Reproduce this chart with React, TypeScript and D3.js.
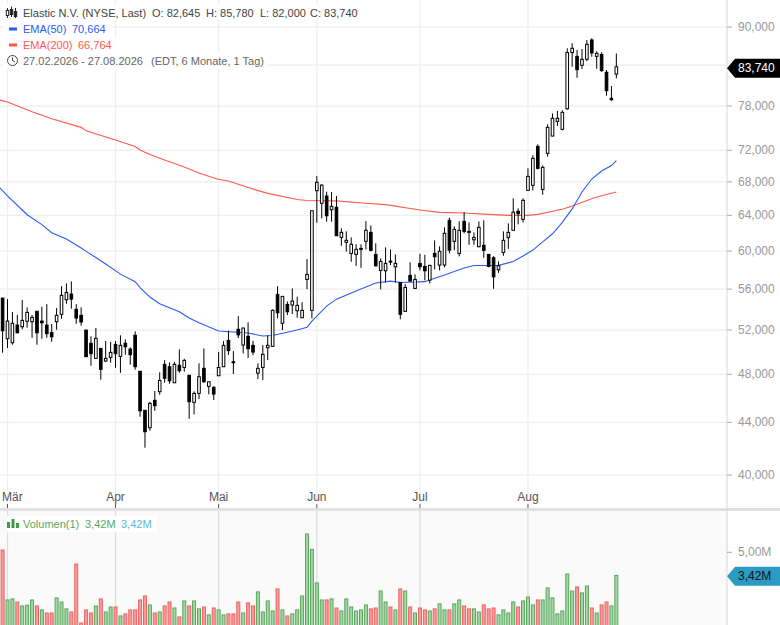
import React from 'react';
import * as d3 from 'd3';

// daily candles, 27.02.2026 - 27.08.2026
const opens = [55.1,51.19,50.82,52.47,52.31,52.83,52.79,53.79,52.85,52.47,51.78,52.79,53.5,54.93,55.5,53.99,53.4,52,50.77,49.4,50.3,49.16,49.49,50.67,49.58,50.77,50.24,51.51,48.26,44.97,43.57,45.79,46.51,48.87,48.66,47.27,48.79,48.6,47.91,45.62,46.37,48.52,46.96,46.88,47.87,48.66,51.04,49.1,52.07,50.61,51.42,50.58,48.1,48.6,50.36,50.49,55.47,52.64,54.47,54.41,53.85,53.17,56.99,53.89,66.92,65.41,66.28,64.65,64.94,61.5,60.95,59.74,59.63,60.29,61.06,62.06,59.63,57.93,57.89,58.91,58.31,56.68,53.79,57.41,56.07,58.67,58.35,56.92,59.74,58.49,58.49,63.43,61.06,59.74,63.3,62.17,61.23,60.47,60.62,59.63,59.27,57.99,59.85,61.5,62.29,64.47,63.54,66.96,67.57,72.52,67.08,71.6,73.88,75.87,74.78,77.62,85.93,85.34,83.97,84.89,87.91,85.34,85.65,82.92,79.1,82.645];
const highs = [55.1,55,53.72,53.43,54.9,54.18,53.43,53.85,54.24,54.5,52.57,54.11,56.3,56.58,56.79,54.5,54.18,52,51.42,52.19,50.3,50.98,50.89,50.98,51.51,51.13,50.4,51.88,48.26,44.97,45.67,46.57,48.17,49.25,49.05,49.1,50.21,49.37,47.91,46.54,48.96,50.3,47.35,46.98,49.97,50.98,51.93,50.06,53.33,52.22,52.73,51,48.96,50.61,51.51,53.99,56.3,55.3,54.77,56.07,55.23,54.7,59.13,64.54,68.71,67.69,66.8,66.76,66.28,62.51,62.17,61.5,60.73,60.73,63.33,62.85,60.84,59.2,60.4,60.18,59.63,56.68,56.51,58.78,57.51,59.7,59.59,58.52,61.17,60.51,62.62,63.73,62.74,63.3,64.35,63.19,62.06,63.3,63.43,59.63,59.44,58.88,62.17,63.08,66,64.82,66,69.68,71.35,72.78,70.06,75.46,76.98,77.3,77.4,86.6,87.39,86.33,86.49,87.91,88.18,86.13,85.97,83.26,80.88,85.78];
const lows = [49.91,50.33,50.64,51.69,52.07,52.22,51.28,50.64,51.19,51.28,50.91,52.03,53.07,54.54,54.05,52.59,52.41,49.55,48.75,49.4,47.53,49.1,49.02,48.57,48.13,49.73,48.84,48.4,44.45,42.03,43.34,44.93,46.25,47.27,47.19,47.27,48.13,48.22,44.28,44.64,45.89,47.27,46.29,45.81,47.85,48.66,49.71,48.02,51.25,49.85,49.43,49.7,47.58,47.5,49.25,50.45,53.11,52,53.43,53.53,53.17,53.17,56,53.11,63.15,63.65,63.27,63.27,61.68,60.57,59.92,58.84,58.41,58.2,60.18,59.96,58.35,55.97,56.68,58.49,56.68,53.02,53.79,56.82,56.03,57.93,56.89,56.58,58.03,57.93,58.25,59.74,60.1,59.42,61.95,60.68,60.68,60.4,59.27,58.25,56.03,57.68,59.48,60.24,62.29,62.97,63.19,66.96,66.96,69.56,66.43,71.17,73.84,75.23,74.65,77.48,83.76,82.1,83.41,84.58,85.28,83.45,83.01,79.48,78.76,82];
const closes = [51.93,52.85,52.64,51.75,52.92,53.69,53.21,51.75,52.69,51.66,51.37,53.4,55.37,55.67,55,53.14,52.76,49.55,49.82,51.23,48.43,49.4,49.94,49.82,50.58,50.45,49.73,48.66,44.93,43.26,45.54,45.35,47.47,47.65,47.44,48.87,48.31,49.22,45.67,46.37,47.79,47.35,47.35,46.31,48.6,50.58,50.1,49.02,51.55,52.19,50.27,49.97,48.52,49.76,50.58,53.89,53.65,55.27,53.75,54.8,54.38,53.89,57.51,64.54,67.94,67.6,63.95,65.05,61.68,62.06,61.17,60.73,60.18,60.18,62.29,60.07,58.41,58.88,58.67,58.84,58.67,53.5,56.17,56.82,56.99,58.31,57.89,58.46,59.38,59.96,61.95,60.1,62.4,62.29,62.17,62.06,61.5,62.62,60.07,58.35,57.26,58.41,61.17,62.06,64.37,64.19,65.76,68.68,70.96,69.68,69.81,75.05,76.29,76.29,77.12,85.93,86.6,83.3,84.89,87.22,85.87,85.8,83.16,80.2,78.9,83.74];

// volume in millions, 1 = green bar
const volumes = [5.16,1.75,1.82,1.61,1.34,1.39,1.75,1.34,1.07,0.86,0.86,1.89,1.61,1.14,0.93,4.2,0.18,1.07,0.86,1.34,1.82,0.93,1.27,1.27,0.66,0.8,1.07,1.07,1.75,2.02,1.41,0.86,0.93,1.34,1.61,1.2,0.59,1.68,1.34,1.68,1.14,1.27,0.73,1.2,1.07,0.73,0.8,0.8,1.61,0.86,1.55,1.34,2.3,0.93,1.68,1,2.5,1.07,0.66,0.8,1.07,2.02,6.25,5.2,2.91,1.75,1.75,1.82,1.2,1,1.82,1.27,1,1.07,1.41,1.14,1.2,2.36,1.61,1.27,1.07,2.5,2.36,1.27,0.86,1.2,1.07,1,1.14,1.48,1.07,1.07,1.48,1.75,1.34,1.14,1.14,0.93,1.41,1.14,1.2,0.73,1.07,0.86,1.61,1.27,1.68,1.95,1.41,1.75,1.75,2.57,1.89,0.8,1,3.52,2.36,2.64,2.23,2.7,1.2,0.86,1.41,1.61,1.34,3.42];
const volumeUp = [0,1,1,0,1,1,1,0,1,0,0,1,1,1,0,0,0,0,0,1,0,1,1,0,1,0,0,0,0,0,1,0,1,0,0,1,0,1,0,1,1,0,1,0,1,1,0,0,0,1,0,0,1,1,1,1,0,1,0,1,1,1,1,1,1,1,0,1,0,1,1,1,1,1,1,0,0,1,1,0,1,0,1,0,1,0,0,1,0,1,1,0,1,1,0,0,1,1,0,0,0,1,1,1,1,0,1,1,1,0,1,1,1,1,1,1,1,0,1,1,0,1,0,0,1,1];

// EMA lines, read at the candle index where the curve changes slope
const ema50Index = [-1,1,4,5,8,10,13,16,17,19,21,24,27,28,30,32,36,38,40,44,50,53,55,60,62,63,64,66,68,72,76,79,81,86,88,90,94,96,101,104,106,108,110,112,114,116,118,120,122,124,125];
const ema50Values = [67.55,66.3,64.62,64.07,62.94,62.02,61.31,60.32,59.96,59.3,58.6,57.54,56.76,56.15,55.2,54.54,53.75,53.14,52.69,51.91,51.72,51.44,51.49,52,52.26,52.85,53.33,54.3,54.99,55.8,56.62,56.82,56.68,56.76,57.12,57.44,58.18,58.44,58.46,58.87,59.46,60.1,61,61.9,63.2,64.75,66.76,68.35,69.35,70.04,70.664];
const ema200Index = [-1,1,6,10,16,17,23,27,28,30,33,37,40,44,46,50,54,60,62,68,74,78,85,89,94,99,103,107,109,114,116,121,125];
const ema200Values = [78.93,78.58,77.2,76.23,75.05,74.6,73.35,72.49,72.03,71.45,70.74,69.86,69.11,68.28,68.1,67.3,66.6,65.87,65.74,65.7,65.42,65.25,64.62,64.35,64.27,64.11,64,64,64.11,64.7,65.09,66.16,66.764];

const priceTicks = [90, 84, 78, 72, 68, 64, 60, 56, 52, 48, 44, 40];
const hiddenPriceTick = 84;
const monthLabels = ['Mär', 'Apr', 'Mai', 'Jun', 'Jul', 'Aug'];
const monthIndex = [1, 23, 44, 64, 85, 107];

const lastPrice = 83.74;
const lastVolume = 3.42;
const volumeTick = 5;

const width = 780;
const height = 625;
const axisX = 727;
const font = '"Liberation Sans", Arial, sans-serif';

const de = d3.formatLocale({ decimal: ',', thousands: '.', grouping: [3], currency: ['', '€'] });
const fmtPrice = de.format('.3f');
const fmtVol = (v: number) => de.format('.2f')(v) + 'M';

const x = d3.scaleLinear().domain([0, 125]).range([2.59, 616.34]);
const y = d3.scaleLog().domain([90, 40]).range([27, 475]);
const yVol = d3.scaleLinear().domain([0, 5]).range([625.6, 552.3]);

const emaLine = d3
  .line<number>()
  .x((d) => x(d))
  .curve(d3.curveLinear);

const tagPath = (cy: number) =>
  `M${axisX},${cy} L${axisX + 8},${cy - 9.5} L${width},${cy - 9.5} L${width},${cy + 9.5} L${axisX + 8},${cy + 9.5} Z`;

const App: React.FC = () => {
  const ema50Path = emaLine.y((_, i) => y(ema50Values[i]))(ema50Index) ?? '';
  const ema200Path = emaLine.y((_, i) => y(ema200Values[i]))(ema200Index) ?? '';

  return (
    <svg
      width={width}
      height={height}
      style={{ position: 'absolute', left: 0, top: 0, background: '#fff' }}
      fontFamily={font}
      fontSize={11}
    >
      {/* volume panel background */}
      <rect x={0} y={511} width={axisX} height={height - 511} fill="#fafafa" />

      {/* grid */}
      {priceTicks.map((t) => (
        <line key={`gy-${t}`} x1={0} x2={axisX} y1={y(t)} y2={y(t)} stroke="#eee" strokeWidth={1.2} />
      ))}
      {monthIndex.map((m) => (
        <g key={`gx-${m}`}>
          <line x1={x(m)} x2={x(m)} y1={0} y2={504} stroke="#eee" strokeWidth={1.2} />
          <line x1={x(m)} x2={x(m)} y1={504} y2={508} stroke="#555" />
          <line x1={x(m)} x2={x(m)} y1={511} y2={height} stroke="#ddd" strokeWidth={1.2} />
        </g>
      ))}

      {/* separator and price axis */}
      <rect x={0} y={508} width={width} height={3} fill="#e0e0e0" />
      <line x1={axisX} x2={axisX} y1={0} y2={height} stroke="#d8d8d8" />

      {/* month labels */}
      {monthLabels.map((label, i) => (
        <text
          key={label}
          x={i === 0 ? 2 : x(monthIndex[i])}
          y={501}
          fill="#555"
          fontSize={12}
          textAnchor={i === 0 ? 'start' : 'middle'}
        >
          {label}
        </text>
      ))}

      {/* price axis labels */}
      {priceTicks
        .filter((t) => t !== hiddenPriceTick)
        .map((t) => (
          <g key={`ly-${t}`}>
            <line x1={axisX} x2={axisX + 5} y1={y(t)} y2={y(t)} stroke="#aaa" />
            <text x={738} y={y(t) + 4} fill="#999" fontSize={12}>
              {fmtPrice(t)}
            </text>
          </g>
        ))}

      {/* moving averages */}
      <path d={ema200Path} fill="none" stroke="#ff5a4d" strokeWidth={1.1} />
      <path d={ema50Path} fill="none" stroke="#2a5cf5" strokeWidth={1.1} />

      {/* candles */}
      {closes.map((c, i) => {
        const o = opens[i];
        const top = y(Math.max(o, c));
        const bottom = y(Math.min(o, c));
        const isDown = c < o;
        return (
          <g key={`c-${i}`}>
            <line x1={x(i)} x2={x(i)} y1={y(highs[i])} y2={y(lows[i])} stroke="#000" strokeWidth={1} />
            <rect
              x={x(i) - 1.3}
              y={top}
              width={2.6}
              height={Math.max(bottom - top, 1)}
              fill={isDown ? '#000' : '#fff'}
              stroke="#000"
              strokeWidth={1}
            />
          </g>
        );
      })}

      {/* volume bars */}
      {volumes.map((v, i) => (
        <rect
          key={`v-${i}`}
          x={x(i) - 1.5}
          y={yVol(v)}
          width={3}
          height={yVol(0) - yVol(v)}
          fill={volumeUp[i] ? '#a2d6a2' : '#f59c98'}
          stroke={volumeUp[i] ? '#5aa65e' : '#ee6464'}
          strokeWidth={1}
        />
      ))}

      {/* price legend */}
      <rect x={3} y={4} width={358} height={16} fill="#fff" fillOpacity={0.9} />
      <rect x={3} y={21} width={108} height={16} fill="#fff" fillOpacity={0.9} />
      <rect x={3} y={37} width={113} height={16} fill="#fff" fillOpacity={0.9} />
      <rect x={3} y={53} width={264} height={16} fill="#fff" fillOpacity={0.9} />

      <g stroke="#222" strokeWidth={1}>
        <line x1={7.5} x2={7.5} y1={8} y2={18} />
        <line x1={11.5} x2={11.5} y1={6.5} y2={17} />
        <line x1={15.5} x2={15.5} y1={8} y2={18} />
        <rect x={6.3} y={10.5} width={2.4} height={5} fill="#fff" />
        <rect x={10.3} y={9.5} width={2.4} height={5} fill="#222" />
        <rect x={14.3} y={11.5} width={2.4} height={5} fill="#222" />
      </g>
      <text x={23} y={16.5} fill="#444">
        Elastic N.V. (NYSE, Last)
        <tspan x={152}>O: 82,645</tspan>
        <tspan x={206}>H: 85,780</tspan>
        <tspan x={260}>L: 82,000</tspan>
        <tspan x={310}>C: 83,740</tspan>
      </text>

      <rect x={9} y={27.5} width={8} height={3} fill="#2a5cf5" />
      <text x={23} y={32.5} fill="#2a5cf5">
        EMA(50)
        <tspan x={72}>70,664</tspan>
      </text>

      <rect x={9} y={43.5} width={8} height={3} fill="#ff5a4d" />
      <text x={23} y={48.5} fill="#ff5a4d">
        EMA(200)
        <tspan x={78}>66,764</tspan>
      </text>

      <circle cx={12.5} cy={60.5} r={5} fill="none" stroke="#444" strokeWidth={1} />
      <path d="M12.5,57.5 V60.5 L15,62" fill="none" stroke="#444" strokeWidth={1} />
      <text x={23} y={64.5} fill="#666">
        27.02.2026 - 27.08.2026
        <tspan x={151}>(EDT, 6 Monate, 1 Tag)</tspan>
      </text>

      {/* last price tag */}
      <path d={tagPath(y(lastPrice) + 1.5)} fill="#000" />
      <text x={738} y={y(lastPrice) + 5.5} fill="#fff" fontSize={12}>
        {fmtPrice(lastPrice)}
      </text>

      {/* volume legend */}
      <rect x={7} y={516} width={151} height={16} fill="#fff" fillOpacity={0.9} />
      <g fill="#3f9a45">
        <rect x={7} y={522} width={3} height={6} />
        <rect x={11.5} y={519} width={3} height={9} />
        <rect x={16} y={523} width={3} height={5} />
      </g>
      <text x={23} y={528} fill="#5aa65e">
        Volumen(1)
        <tspan x={85}>{fmtVol(lastVolume)}</tspan>
      </text>
      <text x={121} y={528} fill="#5cb6dc">
        {fmtVol(lastVolume)}
      </text>

      {/* volume axis */}
      <line x1={axisX} x2={axisX + 5} y1={yVol(volumeTick)} y2={yVol(volumeTick)} stroke="#aaa" />
      <text x={738} y={yVol(volumeTick) + 4} fill="#999" fontSize={12}>
        {fmtVol(volumeTick)}
      </text>
      <path d={tagPath(yVol(lastVolume) + 0.8)} fill="#2a9bc2" />
      <text x={738} y={yVol(lastVolume) + 4.8} fill="#111" fontSize={12}>
        {fmtVol(lastVolume)}
      </text>
    </svg>
  );
};

export default App;
